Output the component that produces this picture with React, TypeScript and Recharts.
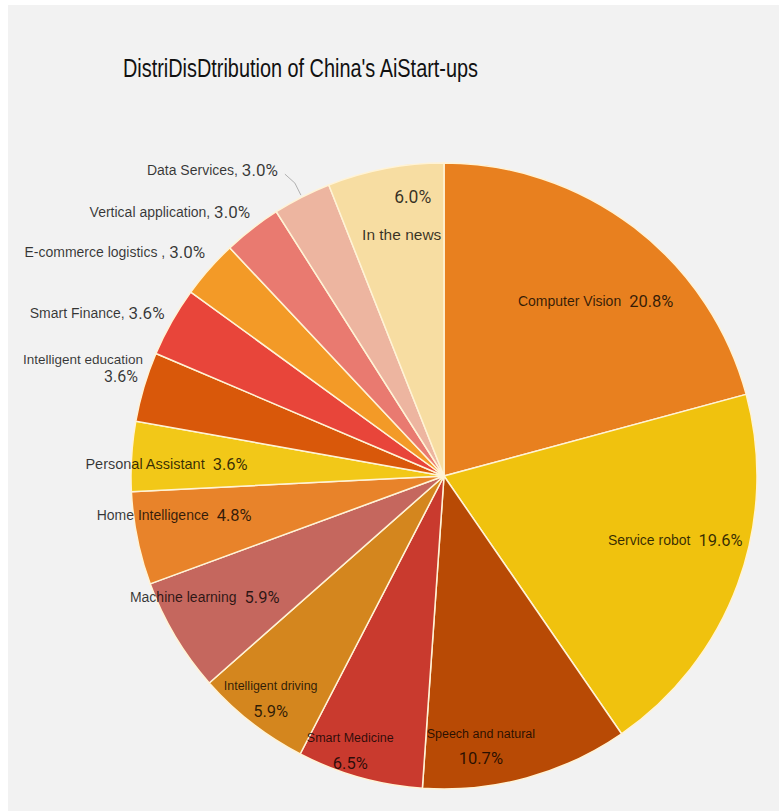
import React from "react";
import { PieChart, Pie, Cell } from "recharts";

const categories = [
  "Computer Vision",
  "Service robot",
  "Speech and natural",
  "Smart Medicine",
  "Intelligent driving",
  "Machine learning",
  "Home Intelligence",
  "Personal Assistant",
  "Intelligent education",
  "Smart Finance",
  "E-commerce logistics",
  "Vertical application",
  "Data Services",
  "In the news",
];
const shares = [20.8, 19.6, 10.7, 6.5, 5.9, 5.9, 4.8, 3.6, 3.6, 3.6, 3.0, 3.0, 3.0, 6.0];
const valueLabels = ["20.8%", "19.6%", "10.7%", "6.5%", "5.9%", "5.9%", "4.8%", "3.6%", "3.6%", "3.6%", "3.0%", "3.0%", "3.0%", "6.0%"];
const separators = ["", "", "", "", "", "", "", "", "", ", ", " , ", ", ", ", ", ""];
const title = "DistriDisDtribution of China's AiStart-ups";

const colors = [
  "#E8801F", "#F0C20E", "#B84A05", "#C93A2E", "#D4861E", "#C5675E", "#E8832A",
  "#F2C818", "#D9580A", "#E8453A", "#F39A27", "#E97A70", "#EDB5A0", "#F7DDA2",
];

// label layout (style): rf = fraction of outer radius along mid angle, dx/dy offsets, name font size
type Layout = { rf: number; dx: number; dy: number; mode: string; fs: number };
const layouts: Layout[] = [
  { rf: 0.75, dx: 9, dy: 11, mode: "inline", fs: 14 },
  { rf: 0.76, dx: 8, dy: -18, mode: "inline", fs: 14 },
  { rf: 0.87, dx: -35, dy: 7, mode: "stack", fs: 12.5 },
  { rf: 0.92, dx: -16, dy: -3, mode: "stack", fs: 12.5 },
  { rf: 0.9, dx: 0, dy: 0, mode: "stack", fs: 12.5 },
  { rf: 0.86, dx: -8, dy: -17, mode: "inline", fs: 14 },
  { rf: 0.87, dx: -3, dy: -15, mode: "inline", fs: 14 },
  { rf: 0.885, dx: -1, dy: 5, mode: "inline", fs: 14.5 },
  { rf: 1, dx: -1, dy: -17, mode: "outstack", fs: 13.5 },
  { rf: 1, dx: -7, dy: -9, mode: "outline", fs: 14 },
  { rf: 1, dx: -4, dy: -17, mode: "outline", fs: 14 },
  { rf: 1, dx: -2, dy: -17, mode: "outline", fs: 14 },
  { rf: 1, dx: -24, dy: -27, mode: "outline", fs: 14 },
  { rf: 0.84, dx: 11, dy: -2, mode: "valuefirst", fs: 15.5 },
];

const data = categories.map((name, i) => ({
  name,
  value: shares[i],
  valueLabel: valueLabels[i],
  sep: separators[i],
}));

const RAD = Math.PI / 180;
const NAME_FONT = "'Liberation Sans', Arial, sans-serif";
const VAL_FONT = "Roboto, 'Liberation Sans', sans-serif";
const TXT = "#000";
const TXT_OP = 0.78;

const renderLabel = (props: any) => {
  const { cx, cy, midAngle, outerRadius, index, payload } = props;
  const L = layouts[index];
  const r = outerRadius * L.rf;
  const bx = cx + r * Math.cos(-midAngle * RAD);
  const by = cy + r * Math.sin(-midAngle * RAD);
  const x = bx + L.dx;
  const y = by + L.dy;
  const name = payload.name ?? categories[index];
  const val = payload.valueLabel ?? valueLabels[index];
  const sep = payload.sep ?? "";
  const common = { fill: TXT, fillOpacity: TXT_OP, dominantBaseline: "central" as any };
  if (L.mode === "inline") {
    return (
      <text x={x} y={y} textAnchor="middle" {...common}>
        <tspan fontFamily={NAME_FONT} fontSize={L.fs}>{name}</tspan>
        <tspan fontFamily={VAL_FONT} fontSize={16.5} dx={8}>{val}</tspan>
      </text>
    );
  }
  if (L.mode === "stack") {
    return (
      <g>
        <text x={x} y={y - 12} textAnchor="middle" fontFamily={NAME_FONT} fontSize={L.fs} {...common}>{name}</text>
        <text x={x} y={y + 13} textAnchor="middle" fontFamily={VAL_FONT} fontSize={16.5} {...common}>{val}</text>
      </g>
    );
  }
  if (L.mode === "valuefirst") {
    return (
      <g>
        <text x={x + 7} y={y - 19} textAnchor="middle" fontFamily={VAL_FONT} fontSize={17.5} {...common}>{val}</text>
        <text x={x - 4} y={y + 19} textAnchor="middle" fontFamily={NAME_FONT} fontSize={L.fs} {...common}>{name}</text>
      </g>
    );
  }
  if (L.mode === "outstack") {
    return (
      <g>
        <text x={x} y={y - 10} textAnchor="end" fontFamily={NAME_FONT} fontSize={L.fs} {...common}>{name}</text>
        <text x={x - 5} y={y + 7} textAnchor="end" fontFamily={VAL_FONT} fontSize={16} {...common}>{val}</text>
      </g>
    );
  }
  // outline
  const lead = index === 12;
  return (
    <g>
      {lead && (
        <polyline
          points={`${bx - 1},${by - 2} ${bx - 7},${by - 14} ${bx - 17},${by - 23}`}
          fill="none"
          stroke="#b0b0b0"
          strokeWidth={1}
        />
      )}
      <text x={x} y={y} textAnchor="end" {...common}>
        <tspan fontFamily={NAME_FONT} fontSize={L.fs}>{name}{sep}</tspan>
        <tspan fontFamily={VAL_FONT} fontSize={17}>{val}</tspan>
      </text>
    </g>
  );
};

export default function App() {
  return (
    <div style={{ position: "fixed", left: 0, top: 0, width: 779, height: 811, background: "#fff" }}>
      <div style={{ position: "absolute", left: 8, top: 5, width: 771, height: 806, background: "#f2f2f2" }} />
      <div style={{ position: "absolute", left: 0, top: 0 }}>
        <PieChart width={779} height={811} margin={{ top: 0, right: 0, bottom: 0, left: 0 }}>
          <Pie
            data={data}
            dataKey="value"
            nameKey="name"
            cx={444}
            cy={476}
            outerRadius={313}
            startAngle={90}
            endAngle={-270}
            stroke="#fff3d6"
            strokeWidth={1.5}
            label={renderLabel}
            labelLine={false}
            isAnimationActive={false}
          >
            {data.map((d, i) => (
              <Cell key={d.name} fill={colors[i]} />
            ))}
          </Pie>
        </PieChart>
      </div>
      <svg width={779} height={120} style={{ position: "absolute", left: 0, top: 0 }}>
        <text
          x={123}
          y={77}
          textLength={355}
          lengthAdjust="spacingAndGlyphs"
          fontFamily="'Liberation Sans Narrow', 'Liberation Sans', Arial, sans-serif"
          fontSize={25}
          fill="#111"
        >
          {title}
        </text>
      </svg>
    </div>
  );
}
